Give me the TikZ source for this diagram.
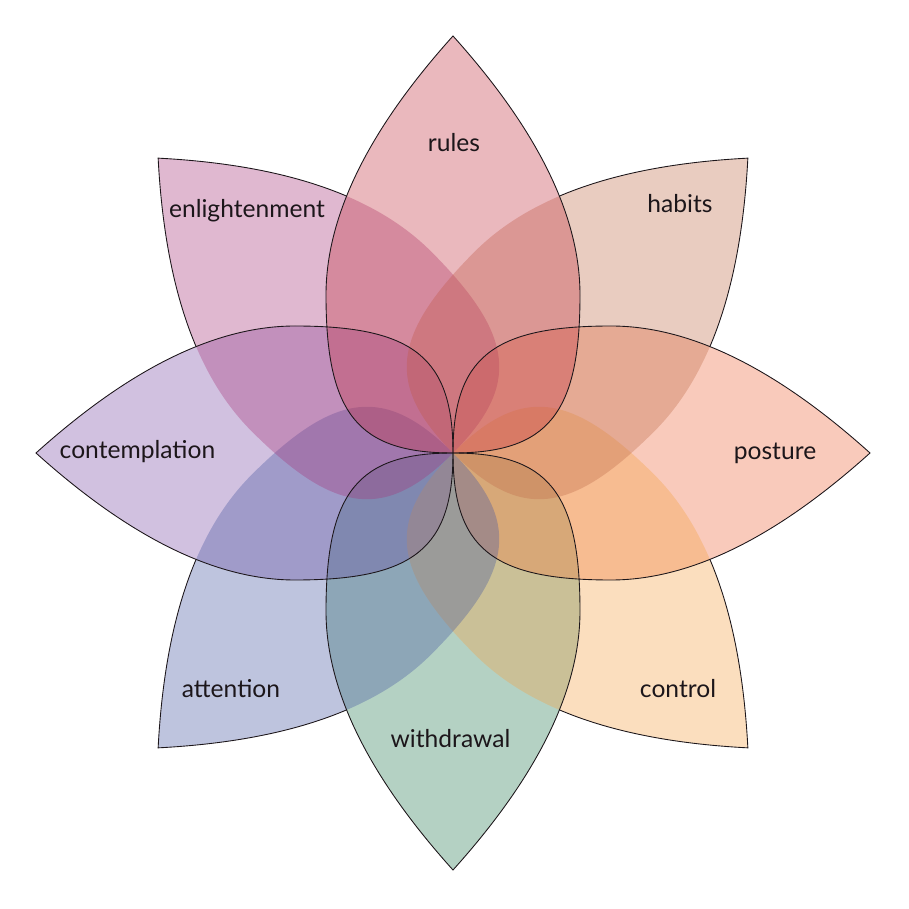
\documentclass[tikz,border=0pt]{standalone}
\usepackage{fontspec}
\setmainfont{Lato}
\definecolor{cRules}{RGB}{195,52,66}
\definecolor{cHabits}{RGB}{192,109,75}
\definecolor{cPosture}{RGB}{238,104,61}
\definecolor{cControl}{RGB}{244,161,69}
\definecolor{cWithdrawal}{RGB}{41,124,84}
\definecolor{cAttention}{RGB}{69,86,161}
\definecolor{cContemplation}{RGB}{124,78,166}
\definecolor{cEnlight}{RGB}{166,52,121}
\definecolor{ink}{RGB}{28,22,26}
\newcommand\petalpath{(0,0) .. controls (-95,0) and (-127,39) .. (-127,158) .. controls (-127,248) and (-72,337) .. (0,417) .. controls (72,337) and (127,248) .. (127,158) .. controls (127,39) and (95,0) .. (0,0) -- cycle}
\tikzset{
  petalfill/.style={fill=#1, fill opacity=0.35},
  petalline/.style={draw=ink, line width=0.75pt},
  lbl/.style={anchor=base, text=ink, font=\fontsize{21}{24}\selectfont, inner sep=0pt}
}
\begin{document}
\begin{tikzpicture}[x=0.03cm,y=0.03cm]
\useasboundingbox (-453,-456) rectangle (456,453);
% petal fills, bottom to top
\fill[petalfill=cWithdrawal, rotate=180] \petalpath;
\fill[petalfill=cContemplation, rotate=90] \petalpath;
\fill[petalfill=cPosture, rotate=270] \petalpath;
\fill[petalfill=cControl, rotate=225] \petalpath;
\fill[petalfill=cAttention, rotate=135] \petalpath;
\fill[petalfill=cEnlight, rotate=45] \petalpath;
\fill[petalfill=cHabits, rotate=315] \petalpath;
\fill[petalfill=cRules] \petalpath;
% outlines of diagonal petals, only outside the axis petals
\begin{scope}[even odd rule]
  \clip (-700,-700) rectangle (700,700) \petalpath;
  \begin{scope}[rotate=90]
    \clip (-700,-700) rectangle (700,700) \petalpath;
    \begin{scope}[rotate=90]
      \clip (-700,-700) rectangle (700,700) \petalpath;
      \begin{scope}[rotate=90]
        \clip (-700,-700) rectangle (700,700) \petalpath;
        \draw[petalline, rotate=45] \petalpath;
        \draw[petalline, rotate=135] \petalpath;
        \draw[petalline, rotate=225] \petalpath;
        \draw[petalline, rotate=315] \petalpath;
      \end{scope}
    \end{scope}
  \end{scope}
\end{scope}
% outlines of axis petals
\draw[petalline, rotate=180] \petalpath;
\draw[petalline, rotate=270] \petalpath;
\draw[petalline, rotate=90] \petalpath;
\draw[petalline] \petalpath;
% labels
\node[lbl] (rules) at (1,301) {rules};
\node[lbl] (habits) at (227,240) {habits};
\node[lbl] (posture) at (322,-7) {posture};
\node[lbl] (control) at (225,-244) {control};
\node[lbl] (withdrawal) at (-2.5,-294) {withdrawal};
\node[lbl] (attention) at (-222,-244) {attention};
\node[lbl] (contemplation) at (-315.5,-6) {contemplation};
\node[lbl] (enlightenment) at (-206,235) {enlightenment};
\end{tikzpicture}
\end{document}
